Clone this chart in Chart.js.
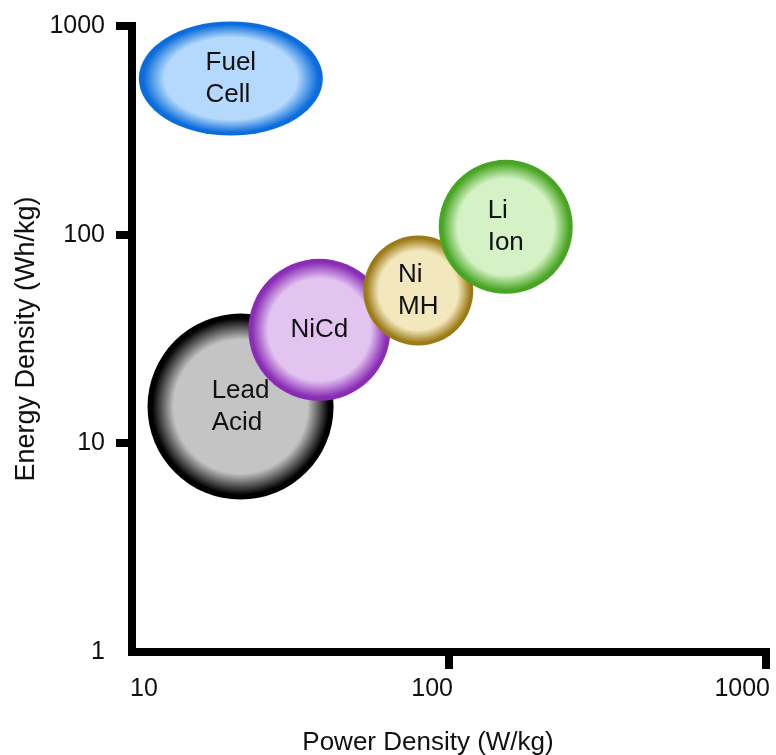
<!DOCTYPE html>
<html>
<head>
<meta charset="utf-8">
<title>Energy Density vs Power Density</title>
<script src="https://cdn.jsdelivr.net/npm/chart.js@4.4.1/dist/chart.umd.min.js"></script>
<style>
  html, body { margin: 0; padding: 0; background: #fff; }
  #wrap { width: 776px; height: 755px; }
</style>
</head>
<body>
<div id="wrap"><canvas id="ragone-chart"></canvas></div>
<script>
// 电池类型与数值 (W/kg, Wh/kg)
const batteryNames = ['Lead Acid', 'NiCd', 'Ni MH', 'Li Ion', 'Fuel Cell'];
const powerDensity = [22, 39, 80, 151, 20.5];
const energyDensity = [15, 35, 54, 109, 560];
const bubbleRadius = [93, 71, 55, 67, 92];
const xTickValues = [10, 100, 1000];
const yTickValues = [1, 10, 100, 1000];
const xTitle = 'Power Density (W/kg)';
const yTitle = 'Energy Density (Wh/kg)';

// 气泡颜色：中心浅色，边缘深色
const innerColors = ['#c4c4c4', '#e3c4f1', '#f3e7bd', '#d4f2c5', '#b5d9fc'];
const edgeColors = ['#000000', '#8a2db5', '#9b7b16', '#48a523', '#0b6ddb'];

const FONT = '"Liberation Sans", Arial, Helvetica, sans-serif';
Chart.defaults.font.family = FONT;
Chart.defaults.color = '#111';

const points = batteryNames.map((name, i) => ({
    x: powerDensity[i], y: energyDensity[i], r: bubbleRadius[i], k: i
}));

// 径向渐变填充
function bubbleFill(context) {
    if (context.type !== 'data') return 'rgba(0,0,0,0)';
    const p = context.raw;
    const chart = context.chart;
    const cx = chart.scales.x.getPixelForValue(p.x);
    const cy = chart.scales.y.getPixelForValue(p.y);
    if (!isFinite(cx) || !isFinite(cy)) return innerColors[p.k];
    const g = chart.ctx.createRadialGradient(cx, cy, 0, cx, cy, p.r);
    g.addColorStop(0, innerColors[p.k]);
    g.addColorStop(0.72, innerColors[p.k]);
    g.addColorStop(0.95, edgeColors[p.k]);
    g.addColorStop(1, edgeColors[p.k]);
    return g;
}

const hideFirst = (first) => (ctx) =>
    ctx.tick && ctx.tick.value === first ? 'rgba(0,0,0,0)' : '#000';

// 燃料电池画成椭圆
const squashPlugin = {
    id: 'squash',
    beforeDatasetDraw(chart, args) {
        const ds = chart.data.datasets[args.index];
        if (!ds.squash) return;
        const el = args.meta.data[0];
        const ctx = chart.ctx;
        ctx.save();
        ctx.translate(el.x, el.y);
        ctx.scale(1, ds.squash);
        ctx.translate(-el.x, -el.y);
    },
    afterDatasetDraw(chart, args) {
        if (chart.data.datasets[args.index].squash) chart.ctx.restore();
    }
};

// 气泡内文字
const bubbleLabels = {
    id: 'bubbleLabels',
    afterDatasetsDraw(chart) {
        const ctx = chart.ctx;
        ctx.save();
        ctx.font = '26px ' + FONT;
        ctx.fillStyle = '#111';
        ctx.textBaseline = 'middle';
        ctx.textAlign = 'left';
        chart.data.datasets.forEach((ds, di) => {
            chart.getDatasetMeta(di).data.forEach((el, i) => {
                const lines = batteryNames[ds.data[i].k].split(' ');
                const w = Math.max(...lines.map(t => ctx.measureText(t).width));
                lines.forEach((t, j) => {
                    ctx.fillText(t, el.x - w / 2, el.y + (j - (lines.length - 1) / 2) * 32);
                });
            });
        });
        ctx.restore();
    }
};

// 坐标轴转角补齐 + x轴刻度文字与标题
const axisExtras = {
    id: 'axisExtras',
    afterDraw(chart) {
        const ctx = chart.ctx;
        const a = chart.chartArea;
        const xs = chart.scales.x;
        ctx.save();
        ctx.fillStyle = '#000';
        ctx.fillRect(a.left - 4, a.top - 4, 8, 4);
        ctx.fillRect(a.left - 4, a.bottom, 4, 4);
        ctx.fillRect(a.right, a.bottom - 4, 4, 8);

        ctx.fillStyle = '#111';
        ctx.textBaseline = 'middle';
        ctx.font = '25px ' + FONT;
        xTickValues.forEach((v, i) => {
            const px = xs.getPixelForValue(v);
            ctx.textAlign = i === 0 ? 'left' : 'right';
            ctx.fillText(String(v), i === 0 ? px - 2 : px + 4, a.bottom + 37);
        });
        ctx.font = '26px ' + FONT;
        ctx.textAlign = 'center';
        ctx.textBaseline = 'alphabetic';
        ctx.fillText(xTitle, (a.left + a.right) / 2 - 21, a.bottom + 98);
        ctx.restore();
    }
};

const ragoneChart = document.getElementById('ragone-chart');
if (ragoneChart) {
    new Chart(ragoneChart.getContext('2d'), {
        type: 'bubble',
        data: {
            datasets: [{
                label: 'Batteries',
                data: points.slice(0, 4),
                backgroundColor: bubbleFill,
                borderWidth: 0,
                clip: false
            }, {
                label: 'Fuel Cell',
                data: points.slice(4),
                backgroundColor: bubbleFill,
                borderWidth: 0,
                clip: false,
                squash: 0.62
            }]
        },
        options: {
            responsive: true,
            maintainAspectRatio: false,
            animation: false,
            events: [],
            layout: { autoPadding: false, padding: { top: 19, right: 10, bottom: 0, left: 0 } },
            plugins: {
                legend: { display: false },
                tooltip: { enabled: false }
            },
            scales: {
                x: {
                    type: 'logarithmic',
                    min: 10,
                    max: 1000,
                    afterBuildTicks: s => { s.ticks = xTickValues.map(v => ({ value: v })); },
                    afterFit: s => { s.height = 103; },
                    grid: { drawOnChartArea: false, tickLength: 17, lineWidth: 8, color: hideFirst(xTickValues[0]) },
                    border: { display: true, width: 8, color: '#000' },
                    ticks: { display: false },
                    title: { display: false, text: xTitle }
                },
                y: {
                    type: 'logarithmic',
                    min: 1,
                    max: 1000,
                    afterBuildTicks: s => { s.ticks = yTickValues.map(v => ({ value: v })); },
                    afterFit: s => { s.width = 132; },
                    grid: { drawOnChartArea: false, tickLength: 16, lineWidth: 8, color: hideFirst(yTickValues[0]) },
                    border: { display: true, width: 8, color: '#000' },
                    ticks: { padding: 11, autoSkip: false, font: { size: 25 }, callback: v => String(v) },
                    title: {
                        display: true, text: yTitle,
                        font: { size: 27 }, padding: { top: 10, bottom: 0 }
                    }
                }
            }
        },
        plugins: [squashPlugin, bubbleLabels, axisExtras]
    });
}
</script>
</body>
</html>
